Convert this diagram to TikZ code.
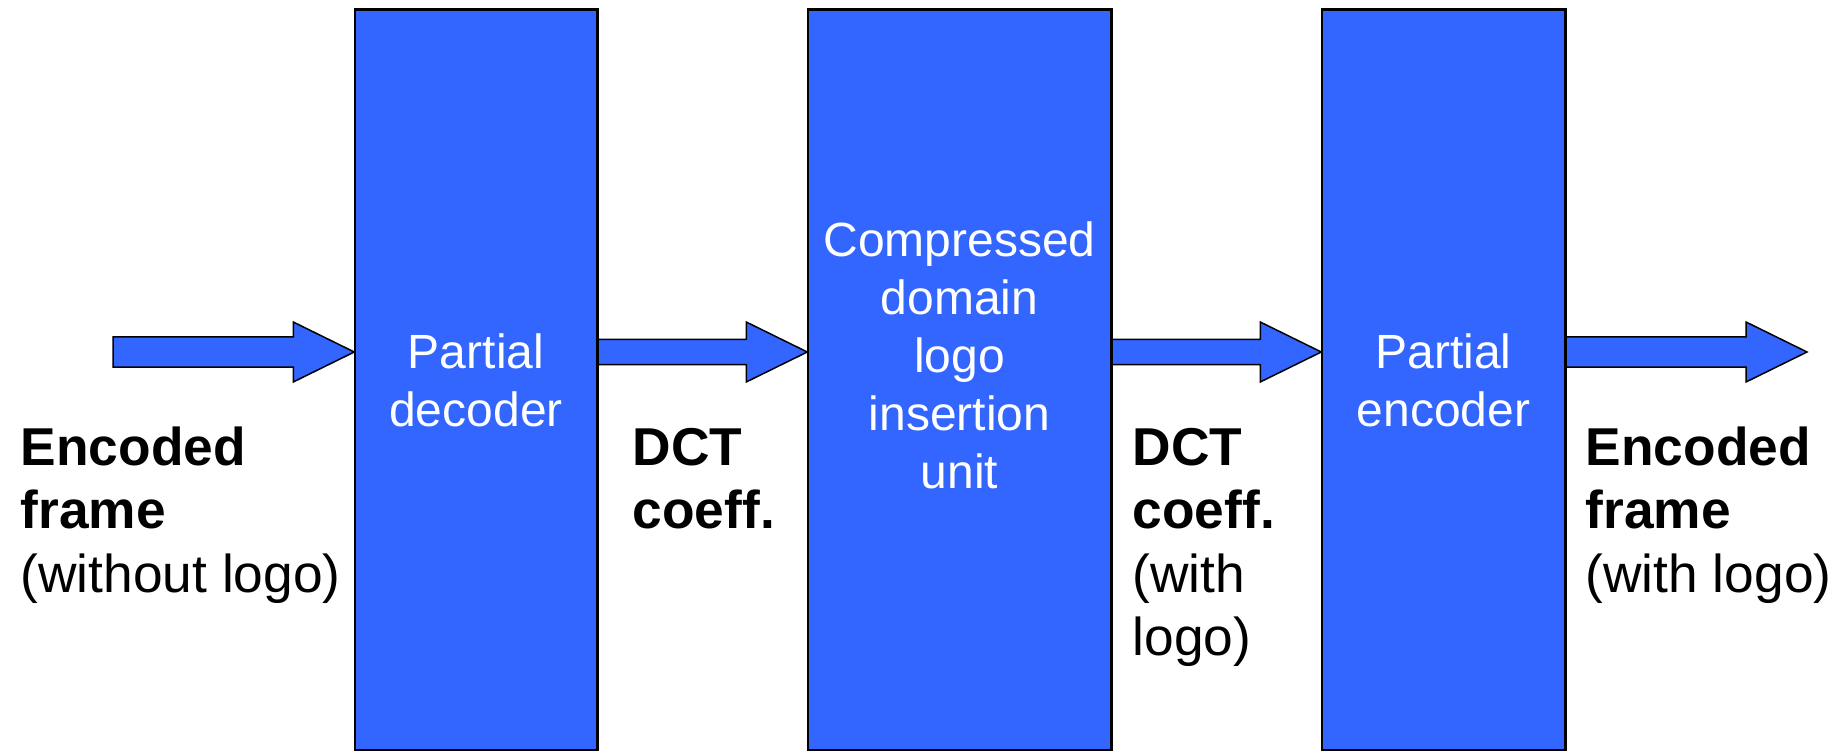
\documentclass[tikz,border=0pt]{standalone}
\usepackage{fontspec}
\setmainfont{Liberation Sans}
\usetikzlibrary{calc}
\definecolor{blockblue}{HTML}{3366FF}
\tikzset{
  block/.style={draw=black, line width=1.5pt, fill=blockblue, minimum height=740pt, inner sep=0pt},
  arrowbody/.style={draw=black, line width=1.5pt, fill=blockblue, line join=miter},
  blocktext/.style={text=white, align=center, inner sep=0pt, font=\fontsize{48}{58}\selectfont},
  sidetext/.style={text=black, align=left, inner sep=0pt, anchor=base west, font=\fontsize{53.3}{63.5}\selectfont},
}
% fat block arrow: #1 tail point, #2 tip point, #3 half shaft width
\newcommand\fatarrow[3]{%
  \draw[arrowbody] ($(#1)+(0,-#3)$) -- ($(#2)+(-61,-#3)$) -- ($(#2)+(-61,-30)$) -- (#2)
    -- ($(#2)+(-61,30)$) -- ($(#2)+(-61,#3)$) -- ($(#1)+(0,#3)$) -- cycle;}
\begin{document}
\begin{tikzpicture}[x=1pt,y=-1pt]
  \useasboundingbox (0,0) rectangle (1845,751);

  % processing blocks
  \node[block, minimum width=242pt] (b1) at (476,380) {};
  \node[block, minimum width=303pt] (b2) at (959.5,380) {};
  \node[block, minimum width=243pt] (b3) at (1443.5,380) {};

  % arrow ends on the signal line
  \coordinate (in)  at (113,352);
  \coordinate (out) at (1807,352);
  \coordinate (a1e) at (b1.west |- in);
  \coordinate (a2s) at (b1.east |- in);
  \coordinate (a2e) at (b2.west |- in);
  \coordinate (a3s) at (b2.east |- in);
  \coordinate (a3e) at (b3.west |- in);
  \coordinate (a4s) at (b3.east |- in);

  \fatarrow{in}{a1e}{15}
  \fatarrow{a2s}{a2e}{12.5}
  \fatarrow{a3s}{a3e}{12.5}
  \fatarrow{a4s}{out}{15}

  % redraw block outlines over the arrow ends
  \draw[line width=1.5pt] (b1.south west) rectangle (b1.north east);
  \draw[line width=1.5pt] (b2.south west) rectangle (b2.north east);
  \draw[line width=1.5pt] (b3.south west) rectangle (b3.north east);

  % block captions
  \node[blocktext] (t1) at (b1.center) {Partial\\decoder};
  \node[blocktext] (t2) at (959.5,355) {Compressed\\domain\\logo\\insertion\\unit};
  \node[blocktext] (t3) at (b3.center) {Partial\\encoder};

  % signal labels (anchored at the baseline of their last line)
  \node[sidetext] (l1) at (20.5,592) {\textbf{Encoded}\\\textbf{frame}\\(without logo)};
  \node[sidetext] (l2) at (632.5,528.5) {\textbf{DCT}\\\textbf{coeff.}};
  \node[sidetext] (l3) at (1132.5,655.5) {\textbf{DCT}\\\textbf{coeff.}\\(with\\logo)};
  \node[sidetext] (l4) at (1585.5,592) {\textbf{Encoded}\\\textbf{frame}\\(with logo)};
\end{tikzpicture}
\end{document}
